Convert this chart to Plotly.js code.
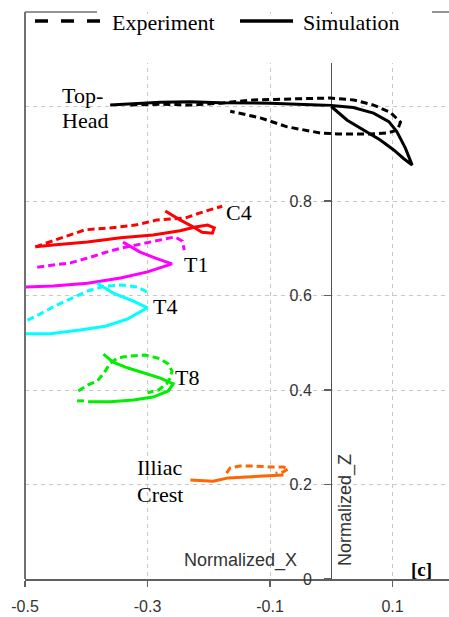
<!DOCTYPE html>
<html>
<head>
<meta charset="utf-8">
<script src="https://cdn.plot.ly/plotly-3.0.1.min.js"></script>
<style>html,body{margin:0;padding:0;background:#fff;}#chart{width:449px;height:617px;}</style>
</head>
<body>
<div id="chart"></div>
<script>
// ---- data (Normalized_X, Normalized_Z) ----
const topHeadSimX = [-0.361, -0.279, -0.230, -0.181, -0.100, -0.018, 0.000, 0.036, 0.069, 0.094, 0.107, 0.121, 0.132, 0.118, 0.102, 0.080, 0.053, 0.026, 0.000];
const topHeadSimY = [1.003, 1.009, 1.010, 1.008, 1.007, 1.004, 1.002, 0.998, 0.986, 0.968, 0.947, 0.912, 0.876, 0.890, 0.908, 0.929, 0.950, 0.971, 1.000];
const topHeadExpX = [-0.328, -0.279, -0.230, -0.181, -0.127, -0.072, -0.002, 0.036, 0.069, 0.096, 0.113, 0.108, 0.091, 0.064, 0.010, -0.018, -0.072, -0.116, -0.165];
const topHeadExpY = [1.003, 1.005, 1.003, 1.007, 1.014, 1.016, 1.018, 1.014, 1.003, 0.988, 0.967, 0.950, 0.944, 0.942, 0.942, 0.944, 0.957, 0.976, 0.990];

const c4SimX = [-0.483, -0.454, -0.398, -0.344, -0.291, -0.247, -0.222, -0.202, -0.191, -0.194, -0.211, -0.225, -0.247, -0.271];
const c4SimY = [0.703, 0.707, 0.713, 0.722, 0.728, 0.737, 0.745, 0.749, 0.743, 0.732, 0.734, 0.745, 0.760, 0.779];
const c4ExpX = [-0.483, -0.442, -0.402, -0.361, -0.320, -0.284, -0.238, -0.214, -0.189, -0.178];
const c4ExpY = [0.703, 0.722, 0.739, 0.743, 0.749, 0.760, 0.764, 0.775, 0.785, 0.789];

const t1SimX = [-0.499, -0.454, -0.398, -0.344, -0.300, -0.260, -0.287, -0.312, -0.340];
const t1SimY = [0.618, 0.620, 0.626, 0.637, 0.650, 0.667, 0.679, 0.692, 0.713];
const t1ExpX = [-0.480, -0.451, -0.426, -0.393, -0.372, -0.344, -0.312, -0.282, -0.255, -0.243, -0.240];
const t1ExpY = [0.660, 0.665, 0.669, 0.681, 0.690, 0.700, 0.709, 0.717, 0.724, 0.715, 0.696];

const t4SimX = [-0.499, -0.459, -0.410, -0.369, -0.333, -0.300, -0.323, -0.356, -0.382];
const t4SimY = [0.519, 0.519, 0.527, 0.535, 0.550, 0.574, 0.588, 0.605, 0.626];
const t4ExpX = [-0.496, -0.475, -0.451, -0.423, -0.397, -0.369, -0.341, -0.317, -0.300];
const t4ExpY = [0.548, 0.561, 0.578, 0.595, 0.610, 0.620, 0.622, 0.618, 0.607];

const t8SimX = [-0.372, -0.356, -0.333, -0.307, -0.279, -0.258, -0.266, -0.291, -0.323, -0.361, -0.397];
const t8SimY = [0.476, 0.459, 0.447, 0.436, 0.425, 0.413, 0.398, 0.385, 0.379, 0.375, 0.375];
const t8ExpX = [-0.415, -0.403, null, -0.413, -0.397, -0.382, -0.371, -0.361, -0.348, -0.328, -0.304, -0.279, -0.266, -0.260, -0.263, -0.269, -0.282, -0.300];
const t8ExpY = [0.377, 0.377, null, 0.398, 0.411, 0.419, 0.436, 0.457, 0.468, 0.472, 0.474, 0.466, 0.455, 0.440, 0.425, 0.413, 0.400, 0.394];

const iliacSimX = [-0.230, -0.193, -0.168, -0.137, -0.104, -0.078];
const iliacSimY = [0.2095, 0.207, 0.214, 0.216, 0.218, 0.220];
const iliacExpX = [-0.171, -0.165, -0.149, -0.124, -0.100, -0.078, -0.070, -0.080, -0.091];
const iliacExpY = [0.224, 0.235, 0.239, 0.239, 0.237, 0.237, 0.233, 0.226, 0.224];

const xTickVals = [-0.5, -0.3, -0.1, 0.1];
const xTickText = ['-0.5', '-0.3', '-0.1', '0.1'];
const yTickVals = [0, 0.2, 0.4, 0.6, 0.8, 1.0];
const yTickText = ['0', '0.2', '0.4', '0.6', '0.8', ''];

const segments = [
  {name: 'Top-Head', color: '#000000', sx: topHeadSimX, sy: topHeadSimY, ex: topHeadExpX, ey: topHeadExpY},
  {name: 'C4', color: '#ff0000', sx: c4SimX, sy: c4SimY, ex: c4ExpX, ey: c4ExpY},
  {name: 'T1', color: '#ff00ff', sx: t1SimX, sy: t1SimY, ex: t1ExpX, ey: t1ExpY},
  {name: 'T4', color: '#00ffff', sx: t4SimX, sy: t4SimY, ex: t4ExpX, ey: t4ExpY},
  {name: 'T8', color: '#00ee00', sx: t8SimX, sy: t8SimY, ex: t8ExpX, ey: t8ExpY},
  {name: 'Illiac Crest', color: '#ff6600', sx: iliacSimX, sy: iliacSimY, ex: iliacExpX, ey: iliacExpY}
];

const traces = [];
segments.forEach(s => {
  traces.push({x: s.ex, y: s.ey, mode: 'lines', name: s.name + ' Experiment', showlegend: false,
    line: {color: s.color, width: 3, dash: '7px,4px'}, connectgaps: false, hoverinfo: 'skip'});
  traces.push({x: s.sx, y: s.sy, mode: 'lines', name: s.name + ' Simulation', showlegend: false,
    line: {color: s.color, width: 3}, hoverinfo: 'skip'});
});

const serif = 'Liberation Serif, Times New Roman, serif';
const sans = 'Liberation Sans, Arial, sans-serif';
const lblFont = {family: serif, size: 22, color: '#000'};

function px2x(p) { return (p - 25) / 424; }
function py2y(p) { return (579 - p) / 567; }

function lbl(px, py, text) {
  return {xref: 'paper', yref: 'paper', x: px2x(px), y: py2y(py), text: text, showarrow: false,
    xanchor: 'left', yanchor: 'middle', font: lblFont, borderpad: 0};
}

const layout = {
  width: 449, height: 617,
  margin: {l: 25, r: 0, t: 12, b: 38},
  paper_bgcolor: '#fff', plot_bgcolor: '#fff',
  showlegend: false,
  xaxis: {
    range: [-0.5, 0.1922], tickvals: xTickVals, ticktext: xTickText,
    showgrid: true, gridcolor: '#c8c8c8', griddash: '4px,4px', gridwidth: 1,
    showline: true, linecolor: '#606060', linewidth: 2,
    ticks: 'outside', ticklen: 6, tickcolor: '#606060', tickwidth: 1.5,
    ticklabelstandoff: 6,
    zeroline: true, zerolinecolor: '#505050', zerolinewidth: 1.5,
    tickfont: {family: sans, size: 16, color: '#333'}
  },
  yaxis: {
    range: [0, 1.2], tickvals: yTickVals, ticktext: yTickText,
    anchor: 'free', position: (331 - 25) / 424,
    showgrid: true, gridcolor: '#c8c8c8', griddash: '4px,4px', gridwidth: 1,
    showline: false, zeroline: false,
    ticks: 'outside', ticklen: 7, tickcolor: '#606060', tickwidth: 1.5,
    ticklabelstandoff: 9,
    tickfont: {family: sans, size: 16, color: '#333'}
  },
  shapes: [
    {type: 'rect', xref: 'paper', yref: 'paper', x0: px2x(27), x1: px2x(432), y0: py2y(63), y1: py2y(14),
      fillcolor: '#fff', line: {width: 0}, layer: 'above'},
    {type: 'line', xref: 'paper', yref: 'paper', x0: 0, x1: 0, y0: 0, y1: 1, line: {color: '#707070', width: 2}, layer: 'above'},
    {type: 'line', xref: 'paper', yref: 'paper', x0: 0, x1: px2x(97), y0: 1, y1: 1, line: {color: '#707070', width: 1.5}, layer: 'above'},
    {type: 'line', xref: 'paper', yref: 'paper', x0: px2x(432), x1: 1, y0: 1, y1: 1, line: {color: '#707070', width: 1.5}, layer: 'above'},
    {type: 'line', xref: 'paper', yref: 'paper', x0: px2x(35), x1: px2x(105), y0: py2y(21), y1: py2y(21),
      line: {color: '#000', width: 3.5, dash: '13px,13px'}, layer: 'above'},
    {type: 'line', xref: 'paper', yref: 'paper', x0: px2x(240), x1: px2x(293), y0: py2y(21), y1: py2y(21),
      line: {color: '#000', width: 3.5}, layer: 'above'}
  ],
  annotations: [
    lbl(111, 22, 'Experiment'),
    lbl(302, 22, 'Simulation'),
    lbl(61, 95, 'Top-'),
    lbl(61, 120, 'Head'),
    lbl(225, 212, 'C4'),
    lbl(183, 264, 'T1'),
    lbl(152, 306, 'T4'),
    lbl(174, 377, 'T8'),
    lbl(136, 467, 'Illiac'),
    lbl(136, 494, 'Crest'),
    {xref: 'paper', yref: 'paper', x: px2x(240), y: py2y(560), text: 'Normalized_X', showarrow: false, xanchor: 'center', yanchor: 'middle',
      font: {family: sans, size: 18, color: '#333'}},
    {xref: 'paper', yref: 'paper', x: px2x(345), y: py2y(510), text: 'Normalized_Z', showarrow: false, textangle: -90, xanchor: 'center', yanchor: 'middle',
      font: {family: sans, size: 18, color: '#333'}},
    {xref: 'paper', yref: 'paper', x: px2x(421), y: py2y(569), text: '<b>[c]</b>', showarrow: false, xanchor: 'center', yanchor: 'middle',
      font: {family: serif, size: 19, color: '#000'}}
  ]
};

Plotly.newPlot('chart', traces, layout, {displayModeBar: false, staticPlot: true});
</script>
</body>
</html>
